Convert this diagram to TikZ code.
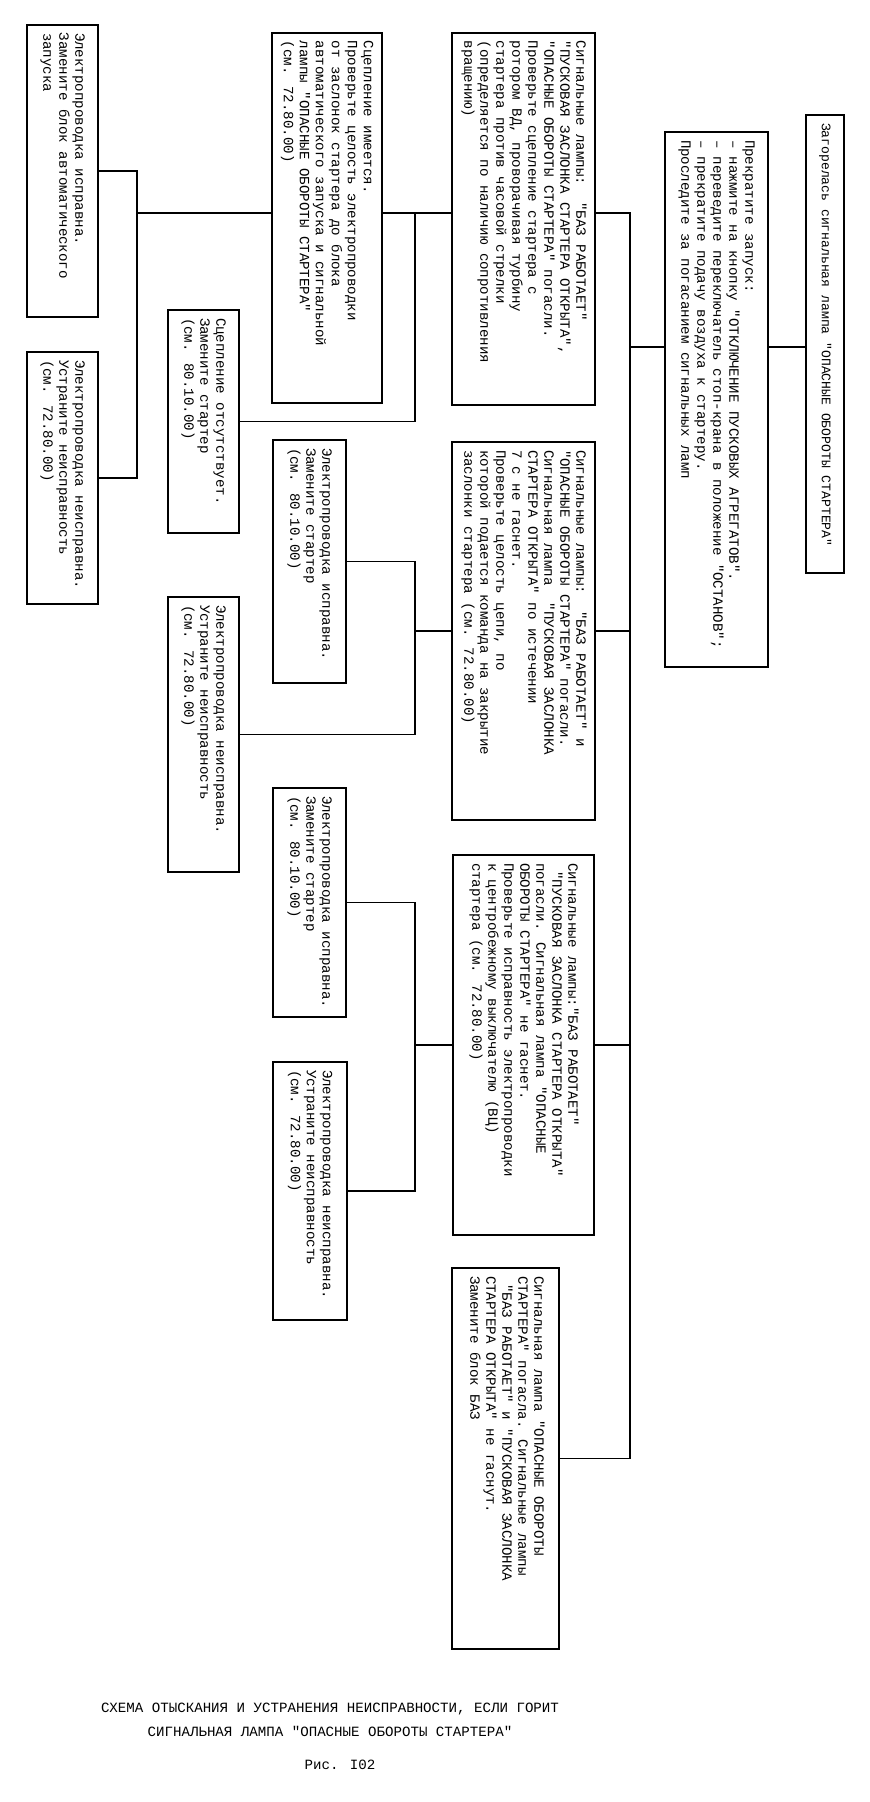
\documentclass[tikz,border=0pt]{standalone}
\usepackage{fontspec}
\usepackage{graphicx}
\newfontfamily\tw{Liberation Mono}
\newlength\pxu
\setlength\pxu{0.75pt}
\newcommand{\rtext}[2]{\rotatebox{-90}{\parbox{#1\pxu}{\begin{tabular}{@{}l@{}}#2\end{tabular}}}}
\tikzset{
  box/.style={draw, line width=1.3pt, inner xsep=0pt, inner ysep=6pt, outer sep=0pt, anchor=north west,
    font={\tw\fontsize{10.6}{12}\selectfont}},
  link/.style={line width=1pt},
  capt/.style={inner sep=0pt, align=center, font={\tw\fontsize{10.6}{18}\selectfont}}
}
\begin{document}
\begin{tikzpicture}[x=0.75pt,y=0.75pt,yscale=-1,xscale=1]
\useasboundingbox (0,0) rectangle (870,1802);

\node[box, minimum width=38\pxu, minimum height=458\pxu, font={\tw\fontsize{9.8}{12}\selectfont}] (a) at (806,115) {\rtext{442}{Загорелась сигнальная лампа "ОПАСНЫЕ ОБОРОТЫ СТАРТЕРА"}};
\node[box, minimum width=103\pxu, minimum height=535\pxu] (b) at (665,132) {\rtext{519}{Прекратите запуск:\\
– нажмите на кнопку "ОТКЛЮЧЕНИЕ ПУСКОВЫХ АГРЕГАТОВ".\\
– переведите переключатель стоп-крана в положение "ОСТАНОВ";\\
– прекратите подачу воздуха к стартеру.\\
Проследите за погасанием сигнальных ламп}};

\node[box, minimum width=143\pxu, minimum height=372\pxu] (c1) at (452,33) {\rtext{356}{Сигнальные лампы:\ \ "БАЗ РАБОТАЕТ"\\
"ПУСКОВАЯ ЗАСЛОНКА СТАРТЕРА ОТКРЫТА",\\
"ОПАСНЫЕ ОБОРОТЫ СТАРТЕРА" погасли.\\
Проверьте сцепление стартера с\\
ротором ВД, проворачивая турбину\\
стартера против часовой стрелки\\
(определяется по наличию сопротивления\\
вращению)}};
\node[box, minimum width=143\pxu, minimum height=378\pxu] (c2) at (452,442) {\rtext{362}{Сигнальные лампы:\ \ "БАЗ РАБОТАЕТ" и\\
"ОПАСНЫЕ ОБОРОТЫ СТАРТЕРА" погасли.\\
Сигнальная лампа\ \ "ПУСКОВАЯ ЗАСЛОНКА\\
СТАРТЕРА ОТКРЫТА" по истечении\\
7 с не гаснет.\\
Проверьте целость цепи, по\\
которой подается команда на закрытие\\
заслонки стартера (см. 72.80.00)}};
\node[box, minimum width=141\pxu, minimum height=380\pxu] (c3) at (453,855) {\rtext{364}{Сигнальные лампы:"БАЗ РАБОТАЕТ"\\
\ "ПУСКОВАЯ ЗАСЛОНКА СТАРТЕРА ОТКРЫТА"\\
погасли. Сигнальная лампа "ОПАСНЫЕ\\
ОБОРОТЫ СТАРТЕРА" не гаснет.\\
Проверьте исправность электропроводки\\
к центробежному выключателю (ВЦ)\\
стартера (см. 72.80.00)}};
\node[box, minimum width=107\pxu, minimum height=381\pxu] (c4) at (452,1268) {\rtext{365}{Сигнальная лампа "ОПАСНЫЕ ОБОРОТЫ\\
СТАРТЕРА" погасла. Сигнальные лампы\\
\ "БАЗ РАБОТАЕТ" и "ПУСКОВАЯ ЗАСЛОНКА\\
СТАРТЕРА ОТКРЫТА" не гаснут.\\
Замените блок БАЗ}};

\node[box, minimum width=110\pxu, minimum height=370\pxu] (b1) at (272,33) {\rtext{354}{Сцепление имеется.\\
Проверьте целость электропроводки\\
от заслонок стартера до блока\\
автоматического запуска и сигнальной\\
лампы "ОПАСНЫЕ ОБОРОТЫ СТАРТЕРА"\\
(см. 72.80.00)}};
\node[box, minimum width=71\pxu, minimum height=223\pxu] (b2) at (168,310) {\rtext{207}{Сцепление отсутствует.\\
Замените стартер\\
(см. 80.10.00)}};
\node[box, minimum width=73\pxu, minimum height=243\pxu] (b3) at (273,440) {\rtext{227}{Электропроводка исправна.\\
Замените стартер\\
(см. 80.10.00)}};
\node[box, minimum width=71\pxu, minimum height=275\pxu] (b4) at (168,597) {\rtext{259}{Электропроводка неисправна.\\
Устраните неисправность\\
(см. 72.80.00)}};
\node[box, minimum width=73\pxu, minimum height=229\pxu] (b5) at (273,788) {\rtext{213}{Электропроводка исправна.\\
Замените стартер\\
(см. 80.10.00)}};
\node[box, minimum width=74\pxu, minimum height=258\pxu] (b6) at (273,1062) {\rtext{242}{Электропроводка неисправна.\\
Устраните неисправность\\
(см. 72.80.00)}};

\node[box, minimum width=71\pxu, minimum height=292\pxu] (a1) at (27,25) {\rtext{276}{Электропроводка исправна.\\
Замените блок автоматического\\
запуска}};
\node[box, minimum width=71\pxu, minimum height=248\pxu] (a2) at (27,352) {\rtext{236}{Электропроводка неисправна.\\
Устраните неисправность\\
(см. 72.80.00)}};

\coordinate (tx) at (630,0);
\coordinate (jx) at (415,0);
\coordinate (kx) at (137,0);
\coordinate (r0) at (0,347);
\coordinate (r1) at (0,213);

\draw[link] (a.west |- r0) -- (b.east |- r0);
\draw[link] (b.west |- r0) -- (tx |- r0);
\draw[link] (c1.east |- r1) -- (tx |- r1) -- (c4.east -| tx) -- (c4.east);
\draw[link] (c2.east) -- (c2.east -| tx);
\draw[link] (c3.east) -- (c3.east -| tx);

\draw[link] (c1.west |- r1) -- (b1.east |- r1);
\draw[link] (jx |- r1) |- (b2.east);
\draw[link] (b1.west |- r1) -- (kx |- r1);
\draw[link] (a1.east) -| (kx |- r1) |- (a2.east);

\draw[link] (c2.west) -- (c2.west -| jx);
\draw[link] (b3.east) -| (jx |- c2.west) |- (b4.east);
\draw[link] (c3.west) -- (c3.west -| jx);
\draw[link] (b5.east) -| (jx |- c3.west) |- (b6.east);

\node[capt] (cap) at (330,1720) {СХЕМА ОТЫСКАНИЯ И УСТРАНЕНИЯ НЕИСПРАВНОСТИ, ЕСЛИ ГОРИТ\\СИГНАЛЬНАЯ ЛАМПА "ОПАСНЫЕ ОБОРОТЫ СТАРТЕРА"};
\node[capt] (fig) at (340,1765) {Рис. I02};
\end{tikzpicture}
\end{document}
